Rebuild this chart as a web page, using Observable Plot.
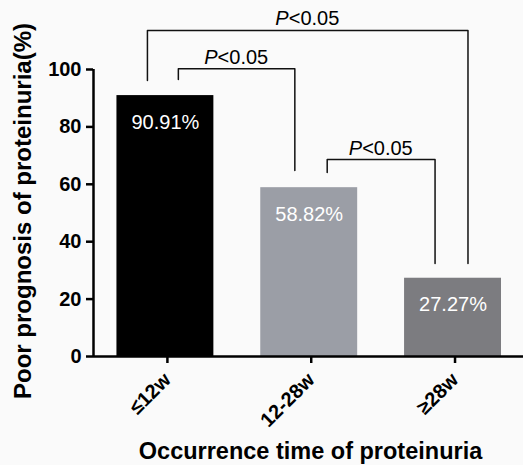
<!DOCTYPE html>
<html>
<head>
<meta charset="utf-8">
<script src="https://cdn.jsdelivr.net/npm/d3@7"></script>
<script src="https://cdn.jsdelivr.net/npm/@observablehq/plot@0.6"></script>
<style>
  html, body { margin: 0; padding: 0; background: #fafafa; }
</style>
</head>
<body>
<div id="chart"></div>
<script>
const categories = ["≤12w", "12-28w", "≥28w"];
const values = [90.91, 58.82, 27.27];
const valueLabels = ["90.91%", "58.82%", "27.27%"];
const barColors = ["#000000", "#9b9ea6", "#7c7c80"];
const yTicks = [0, 20, 40, 60, 80, 100];

// significance brackets (category indexes and y-levels)
const bracketFrom = [0, 0, 1];
const bracketTo = [2, 1, 2];
const bracketFromShift = [-0.125, 0.09, 0.125];
const bracketToShift = [0.104, -0.1, -0.125];
const bracketTop = [113.6, 100.3, 68.6];
const bracketFromEnd = [96.2, 96.5, 64.1];
const bracketToEnd = [32.4, 64.8, 32.4];
const bracketText = ["<0.05", "<0.05", "<0.05"];

const bars = categories.map((c, i) => ({i, c, value: values[i], label: valueLabels[i], color: barColors[i]}));
const half = 0.337;

const bracketMarks = [];
const bracketLabels = [];
bracketFrom.forEach((f, k) => {
  const xa = f + bracketFromShift[k];
  const xb = bracketTo[k] + bracketToShift[k];
  const pts = [
    {x: xa, y: bracketFromEnd[k]},
    {x: xa, y: bracketTop[k]},
    {x: xb, y: bracketTop[k]},
    {x: xb, y: bracketToEnd[k]}
  ];
  bracketMarks.push(Plot.line(pts, {x: "x", y: "y", stroke: "#111", strokeWidth: 1.5, curve: "linear"}));
  bracketLabels.push({x: (xa + xb) / 2, y: bracketTop[k], rest: bracketText[k]});
});

const font = "'Liberation Sans', Arial, Helvetica, sans-serif";

const chart = Plot.plot({
  width: 523,
  height: 465,
  marginLeft: 93,
  marginRight: 0,
  marginTop: 69,
  marginBottom: 109,
  style: {background: "#fafafa", fontFamily: font, color: "#000", overflow: "visible"},
  x: {domain: [-0.5, 2.49], axis: null},
  y: {domain: [0, 100], axis: null},
  color: {type: "identity"},
  marks: [
    Plot.rectY(bars, {x1: d => d.i - half, x2: d => d.i + half, y: "value", fill: "color"}),
    Plot.text(bars, {x: "i", y: "value", text: "label", fill: "white", fontSize: 20, lineAnchor: "bottom", dy: 33}),
    Plot.ruleY([0], {stroke: "#000", strokeWidth: 2.5}),
    Plot.ruleX([-0.5], {y1: 0, y2: 100, stroke: "#000", strokeWidth: 2.5}),
    Plot.axisY({ticks: yTicks, tickSize: 7, tickPadding: 5, strokeWidth: 2.5, fontSize: 20, fontWeight: "bold", label: null, tickFormat: d => d}),
    Plot.axisX({ticks: [0, 1, 2], tickFormat: i => categories[i], tickRotate: -45, tickSize: 7, tickPadding: 13, dx: 2, strokeWidth: 2.5, fontSize: 20, fontWeight: "bold", label: null}),
    ...bracketMarks,
    Plot.text(bracketLabels, {x: "x", y: "y", text: () => "P", fontStyle: "italic", fontSize: 20, textAnchor: "end", lineAnchor: "bottom", dx: -19, dy: -5}),
    Plot.text(bracketLabels, {x: "x", y: "y", text: "rest", fontSize: 20, textAnchor: "start", lineAnchor: "bottom", dx: -19, dy: -5}),
    Plot.text(["Poor prognosis of proteinuria(%)"], {frameAnchor: "left", textAnchor: "middle", lineAnchor: "middle", rotate: -90, dx: -70, dy: -2, fontSize: 24, fontWeight: "bold"}),
    Plot.text(["Occurrence time of proteinuria"], {frameAnchor: "bottom", textAnchor: "middle", lineAnchor: "bottom", dy: 102, dx: 2, fontSize: 23.5, fontWeight: "bold"})
  ]
});
document.getElementById("chart").appendChild(chart);
</script>
</body>
</html>
